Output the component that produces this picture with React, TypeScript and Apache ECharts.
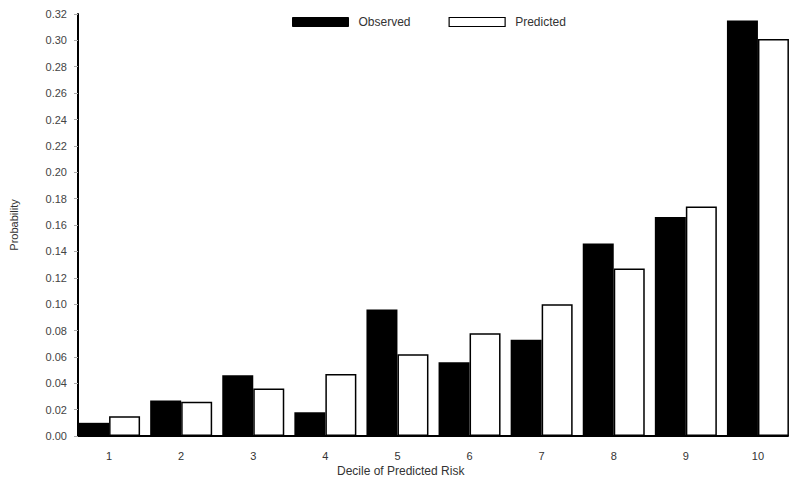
import React, { useEffect, useRef } from "react";
import * as echarts from "echarts";

const deciles = [1, 2, 3, 4, 5, 6, 7, 8, 9, 10];
const observed = [0.010, 0.027, 0.046, 0.018, 0.096, 0.056, 0.073, 0.146, 0.166, 0.315];
const predicted = [0.015, 0.026, 0.036, 0.047, 0.062, 0.078, 0.100, 0.127, 0.174, 0.301];
const seriesNames = ["Observed", "Predicted"];
const xAxisTitle = "Decile of Predicted Risk";
const yAxisTitle = "Probability";

const FONT = "'Liberation Sans', Arial, Helvetica, sans-serif";

export default function App() {
  const ref = useRef<HTMLDivElement>(null);
  useEffect(() => {
    if (!ref.current) return;
    const chart = echarts.init(ref.current, null, { renderer: "svg" });
    chart.setOption({
      animation: false,
      backgroundColor: "#ffffff",
      textStyle: { fontFamily: FONT },
      title: {
        text: xAxisTitle,
        left: 337,
        top: 465,
        padding: 0,
        textStyle: { fontFamily: FONT, fontSize: 12, fontWeight: "normal", color: "#333" },
      },
      legend: {
        data: [
          { name: seriesNames[0], itemStyle: { color: "#000", borderColor: "#000", borderWidth: 1 } },
          { name: seriesNames[1], itemStyle: { color: "#fff", borderColor: "#000", borderWidth: 1.2 } },
        ],
        left: 292,
        top: 16,
        padding: 0,
        itemWidth: 56,
        itemHeight: 9,
        itemGap: 38,
        icon: "rect",
        textStyle: { fontFamily: FONT, fontSize: 12, color: "#333", padding: [0, 0, 0, 5] },
      },
      grid: { left: 74, right: 12, top: 14, bottom: 49, containLabel: false },
      xAxis: {
        type: "value",
        min: 0.569,
        max: 10.417,
        splitLine: { show: false },
        axisLine: { show: true, onZero: false, lineStyle: { color: "#000", width: 2 } },
        axisTick: { show: false },
        axisLabel: {
          customValues: deciles,
          margin: 14,
          fontFamily: FONT,
          fontSize: 11,
          color: "#333",
        },
      },
      yAxis: {
        type: "value",
        min: 0,
        max: 0.32,
        interval: 0.02,
        name: yAxisTitle,
        nameLocation: "middle",
        nameGap: 59,
        nameTextStyle: { fontFamily: FONT, fontSize: 11, color: "#333" },
        splitLine: { show: false },
        axisLine: { show: true, onZero: false, lineStyle: { color: "#000", width: 2 } },
        axisTick: { show: true, length: 4, lineStyle: { color: "#aaa", width: 1 } },
        axisLabel: {
          margin: 11,
          fontFamily: FONT,
          fontSize: 11,
          color: "#444",
          formatter: (v: number) => v.toFixed(2),
        },
      },
      series: [
        {
          name: seriesNames[0],
          type: "bar",
          barWidth: 31,
          barGap: "0%",
          itemStyle: { color: "#000", borderColor: "#000", borderWidth: 0 },
          data: deciles.map((d, i) => [d, observed[i]]),
        },
        {
          name: seriesNames[1],
          type: "bar",
          barWidth: 31,
          barGap: "0%",
          itemStyle: { color: "#fff", borderColor: "#000", borderWidth: 1.5 },
          data: deciles.map((d, i) => [d, predicted[i]]),
        },
      ],
    });
    return () => chart.dispose();
  }, []);
  return <div ref={ref} style={{ width: 800, height: 485, position: "absolute", left: 0, top: 0 }} />;
}
